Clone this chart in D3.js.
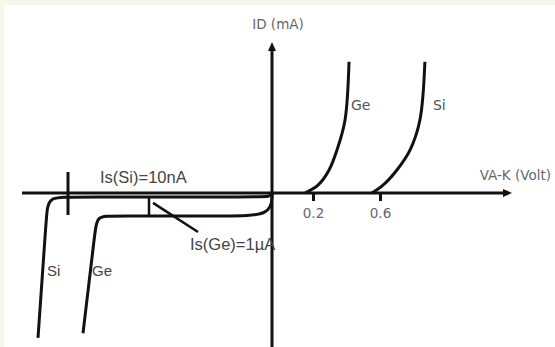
<!DOCTYPE html>
<html>
<head>
<meta charset="utf-8">
<script src="https://cdn.jsdelivr.net/npm/d3@7"></script>
<style>
  html, body { margin: 0; padding: 0; background: #f8f6ea; }
  #graphicContainer { width: 555px; height: 347px; }
  svg { display: block; }
</style>
</head>
<body>
<div id="graphicContainer"></div>
<script>
// forward characteristic (V, mA)
const geForward = [[0.161, 0], [0.23, 0.6], [0.296, 1.77], [0.343, 3.3], [0.391, 5.6], [0.415, 10.1]];
const siForward = [[0.552, 0], [0.618, 0.6], [0.701, 1.77], [0.779, 3.3], [0.838, 5.6], [0.868, 10.1]];
// reverse characteristic (V, schematic reverse current)
const siReverse = [[0, 0], [-0.4, -0.17], [-3, -0.17], [-40, -0.17], [-44.4, -0.17], [-45, -0.7], [-45.2, -1.3], [-46.8, -6.3]];
const geReverse = [[0, 0], [0, -1], [-9, -1], [-32, -1], [-35, -1], [-35.4, -1.7], [-37.8, -6.1]];
const xTicks = [0.2, 0.6];
const isSiV = -40.8;      // Is(Si) marker
const isGeV = -24.6;      // Is(Ge) marker
const siLevel = -0.17, geLevel = -1;

const container = d3.select('#graphicContainer');
const Width = 555, Height = 347;
const ink = '#111';

const x = d3.scaleLinear()
  .domain([-50, 0, 0.2, 0.6, 1.0])
  .range([22, 272, 313, 380, 447]);
const y = d3.scaleLinear()
  .domain([-6.5, 0, 10])
  .range([342.5, 193, 63]);

const svg = container.append('svg')
  .attr('width', Width)
  .attr('height', Height);

svg.append('rect')
  .attr('x', 4).attr('y', 5)
  .attr('width', Width - 4).attr('height', Height - 5)
  .attr('fill', '#fff');

// axes
const x0 = x(0), y0 = y(0);
svg.append('line')
  .attr('x1', 22).attr('x2', 506)
  .attr('y1', y0).attr('y2', y0)
  .attr('stroke', ink).attr('stroke-width', 3);
svg.append('path')
  .attr('d', `M512,${y0} L503,${y0 - 4} L503,${y0 + 4} Z`)
  .attr('fill', ink);
svg.append('line')
  .attr('x1', x0).attr('x2', x0)
  .attr('y1', 49).attr('y2', Height)
  .attr('stroke', ink).attr('stroke-width', 3);
svg.append('path')
  .attr('d', `M${x0},42 L${x0 - 4},51 L${x0 + 4},51 Z`)
  .attr('fill', ink);

const xAxis = svg.append('g')
  .attr('transform', `translate(0,${y0})`)
  .call(d3.axisBottom(x).tickValues(xTicks).tickSize(8).tickPadding(7).tickFormat(d3.format('.1f')));
xAxis.select('.domain').remove();
xAxis.selectAll('.tick line').attr('stroke', ink).attr('stroke-width', 3);
xAxis.selectAll('.tick text')
  .attr('fill', '#666')
  .style('font-family', '"DejaVu Sans", Verdana, sans-serif')
  .style('font-size', '13.5px');

// curves
const fwdLine = d3.line().x(d => x(d[0])).y(d => y(d[1])).curve(d3.curveCatmullRom);
const revLine = d3.line().x(d => x(d[0])).y(d => y(d[1])).curve(d3.curveBasis);

[geForward, siForward].forEach(s => {
  svg.append('path').attr('d', fwdLine(s))
    .attr('fill', 'none').attr('stroke', ink).attr('stroke-width', 3);
});
[siReverse, geReverse].forEach(s => {
  svg.append('path').attr('d', revLine(s))
    .attr('fill', 'none').attr('stroke', ink).attr('stroke-width', 3);
});

// markers
svg.append('line')
  .attr('x1', x(isSiV)).attr('x2', x(isSiV))
  .attr('y1', y0 - 21).attr('y2', y0 + 22)
  .attr('stroke', ink).attr('stroke-width', 3);
svg.append('line')
  .attr('x1', x(isGeV)).attr('x2', x(isGeV))
  .attr('y1', y(siLevel)).attr('y2', y(geLevel))
  .attr('stroke', ink).attr('stroke-width', 2.5);
svg.append('line')
  .attr('x1', x(isGeV) + 4).attr('y1', y(siLevel) + 6)
  .attr('x2', x(isGeV) + 49).attr('y2', y(geLevel) + 16)
  .attr('stroke', ink).attr('stroke-width', 2.5);

// labels
const txt = (t, px, py, opts = {}) => svg.append('text')
  .attr('x', px).attr('y', py)
  .attr('text-anchor', opts.anchor || 'start')
  .attr('dominant-baseline', 'middle')
  .attr('fill', opts.color || '#555')
  .style('font-family', opts.font || '"DejaVu Sans", Verdana, sans-serif')
  .style('font-size', (opts.size || 14) + 'px')
  .text(t);

const arial = '"Liberation Sans", Arial, sans-serif';
txt('ID (mA)', x0 + 6, 25, { anchor: 'middle', size: 13.5, color: '#666' });
txt('VA-K (Volt)', 551, 176, { anchor: 'end', size: 13.5, color: '#666' });
txt('Ge', x(0.415) + 2, 106, { size: 14 });
txt('Si', x(0.868) + 8, 106, { size: 14 });
txt('Is(Si)=10nA', 100, 179, { size: 16.5, color: '#444', font: arial });
txt('Is(Ge)=1µA', 190, 246, { size: 16.5, color: '#444', font: arial });
txt('Si', 47, 272, { size: 15, color: '#444', font: arial });
txt('Ge', 92, 272, { size: 15, color: '#444', font: arial });
</script>
</body>
</html>
